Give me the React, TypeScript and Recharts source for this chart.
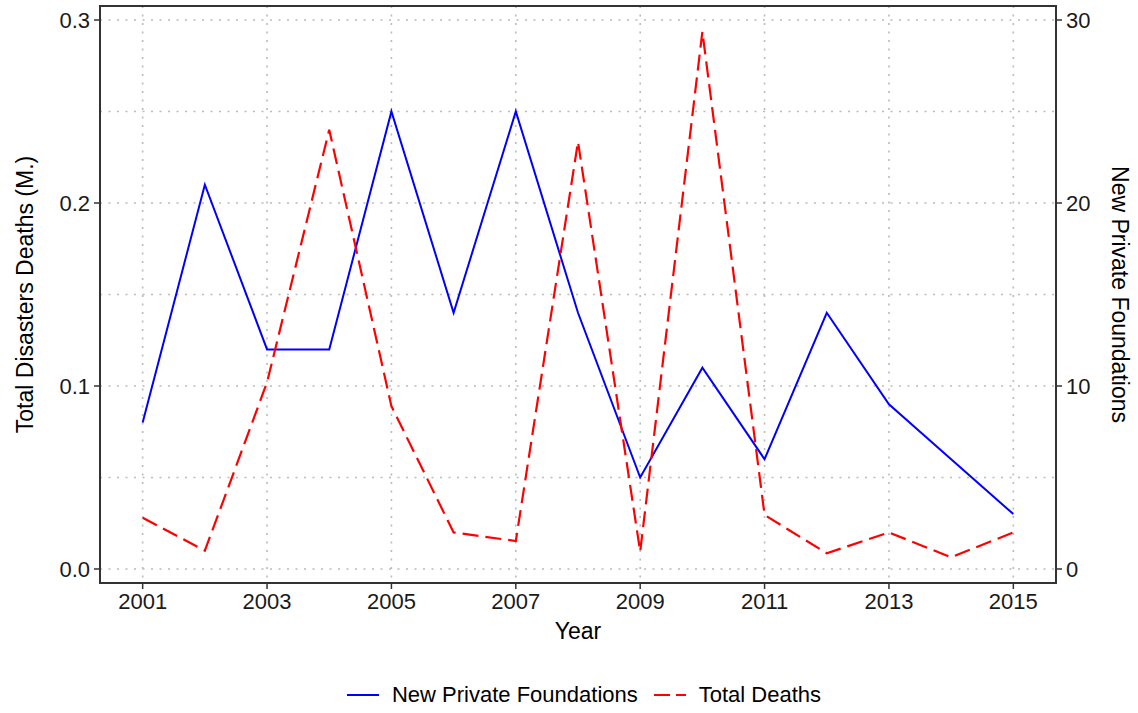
import React from 'react';
import { LineChart, Line, XAxis, YAxis, CartesianGrid } from 'recharts';

const years = [2001, 2002, 2003, 2004, 2005, 2006, 2007, 2008, 2009, 2010, 2011, 2012, 2013, 2014, 2015];
const newFoundations = [8, 21, 12, 12, 25, 14, 25, 14, 5, 11, 6, 14, 9, 6, 3];
const totalDeaths = [0.028, 0.01, 0.102, 0.24, 0.089, 0.02, 0.0153, 0.2335, 0.0095, 0.2936, 0.0295, 0.0086, 0.02, 0.0064, 0.02];

const xTicks = [2001, 2003, 2005, 2007, 2009, 2011, 2013, 2015];
const leftTicks = [0, 0.1, 0.2, 0.3];
const rightTicks = [0, 10, 20, 30];
const gridLevels = [0, 0.05, 0.1, 0.15, 0.2, 0.25, 0.3];

const xDomain = [2000.314, 2015.686];
const leftDomain = [-0.00765, 0.30765];
const rightDomain = [-0.765, 30.765];

const data = years.map((year, i) => ({
    year,
    foundations: newFoundations[i],
    deaths: totalDeaths[i],
}));

const FONT = '"Liberation Sans", Arial, sans-serif';
const tickStyle = { fontSize: 22, fill: '#1a1a1a', fontFamily: FONT };
const titleStyle = { fontSize: 23, fill: '#000', fontFamily: FONT };

const LeftTitle = (props: any) => {
    const { viewBox } = props;
    const cy = viewBox.y + viewBox.height / 2;
    return (
        <text x={25} y={cy} transform={`rotate(-90, 25, ${cy})`} textAnchor="middle" dominantBaseline="central" style={titleStyle}>
            Total Disasters Deaths (M.)
        </text>
    );
};

const RightTitle = (props: any) => {
    const { viewBox } = props;
    const cy = viewBox.y + viewBox.height / 2;
    return (
        <text x={1120} y={cy} transform={`rotate(90, 1120, ${cy})`} textAnchor="middle" dominantBaseline="central" style={titleStyle}>
            New Private Foundations
        </text>
    );
};

const XTitle = (props: any) => {
    const { viewBox } = props;
    const cx = viewBox.x + viewBox.width / 2;
    return (
        <text x={cx} y={631} textAnchor="middle" dominantBaseline="central" style={titleStyle}>
            Year
        </text>
    );
};

const Legend = () => (
    <div
        style={{
            position: 'absolute',
            left: 0,
            width: 1168,
            top: 682,
            display: 'flex',
            justifyContent: 'center',
            alignItems: 'center',
            fontFamily: FONT,
            fontSize: 22,
            color: '#000',
        }}
    >
        <svg width={32} height={10} style={{ marginRight: 13 }}>
            <line x1={0} y1={5} x2={32} y2={5} stroke="#0000ff" strokeWidth={2} />
        </svg>
        <span style={{ marginRight: 16 }}>New Private Foundations</span>
        <svg width={32} height={10} style={{ marginRight: 13 }}>
            <line x1={0} y1={5} x2={32} y2={5} stroke="#ff0000" strokeWidth={2.2} strokeDasharray="16 6" />
        </svg>
        <span>Total Deaths</span>
    </div>
);

const axisCommon = {
    type: 'number' as const,
    allowDataOverflow: true,
    axisLine: false,
    tickSize: 6,
    tickMargin: 4,
    tickLine: { stroke: '#333', strokeWidth: 1.5 },
    tick: tickStyle,
};

const App: React.FC = () => {
    return (
        <div style={{ position: 'absolute', left: 0, top: 0, width: 1138, height: 713 }}>
            <LineChart width={1138} height={713} data={data} margin={{ top: 6, right: 0, left: 0, bottom: 70 }}>
                <CartesianGrid
                    yAxisId="grid"
                    stroke="#bbbbbb"
                    strokeWidth={1.6}
                    strokeDasharray="2 6.5"
                />
                <XAxis
                    {...axisCommon}
                    dataKey="year"
                    domain={xDomain}
                    ticks={xTicks}
                    height={60}
                    label={{ content: XTitle }}
                />
                <YAxis
                    {...axisCommon}
                    yAxisId="left"
                    domain={leftDomain}
                    ticks={leftTicks}
                    tickFormatter={(v: number) => v.toFixed(1)}
                    width={100}
                    label={{ content: LeftTitle }}
                />
                <YAxis
                    {...axisCommon}
                    yAxisId="right"
                    orientation="right"
                    domain={rightDomain}
                    ticks={rightTicks}
                    width={82}
                    label={{ content: RightTitle }}
                />
                <YAxis yAxisId="grid" type="number" domain={leftDomain} ticks={gridLevels} allowDataOverflow hide width={0} />
                <Line
                    yAxisId="right"
                    dataKey="foundations"
                    stroke="#0000ff"
                    strokeWidth={2}
                    dot={false}
                    activeDot={false}
                    isAnimationActive={false}
                />
                <Line
                    yAxisId="left"
                    dataKey="deaths"
                    stroke="#ff0000"
                    strokeWidth={2.2}
                    strokeDasharray="16 7"
                    dot={false}
                    activeDot={false}
                    isAnimationActive={false}
                />
            </LineChart>
            {/* panel border */}
            <div
                style={{
                    position: 'absolute',
                    left: 99,
                    top: 5,
                    width: 958,
                    height: 579,
                    boxSizing: 'border-box',
                    borderWidth: 2,
                    borderStyle: 'solid',
                    borderColor: '#333',
                    pointerEvents: 'none',
                }}
            />
            <Legend />
        </div>
    );
};

export default App;
